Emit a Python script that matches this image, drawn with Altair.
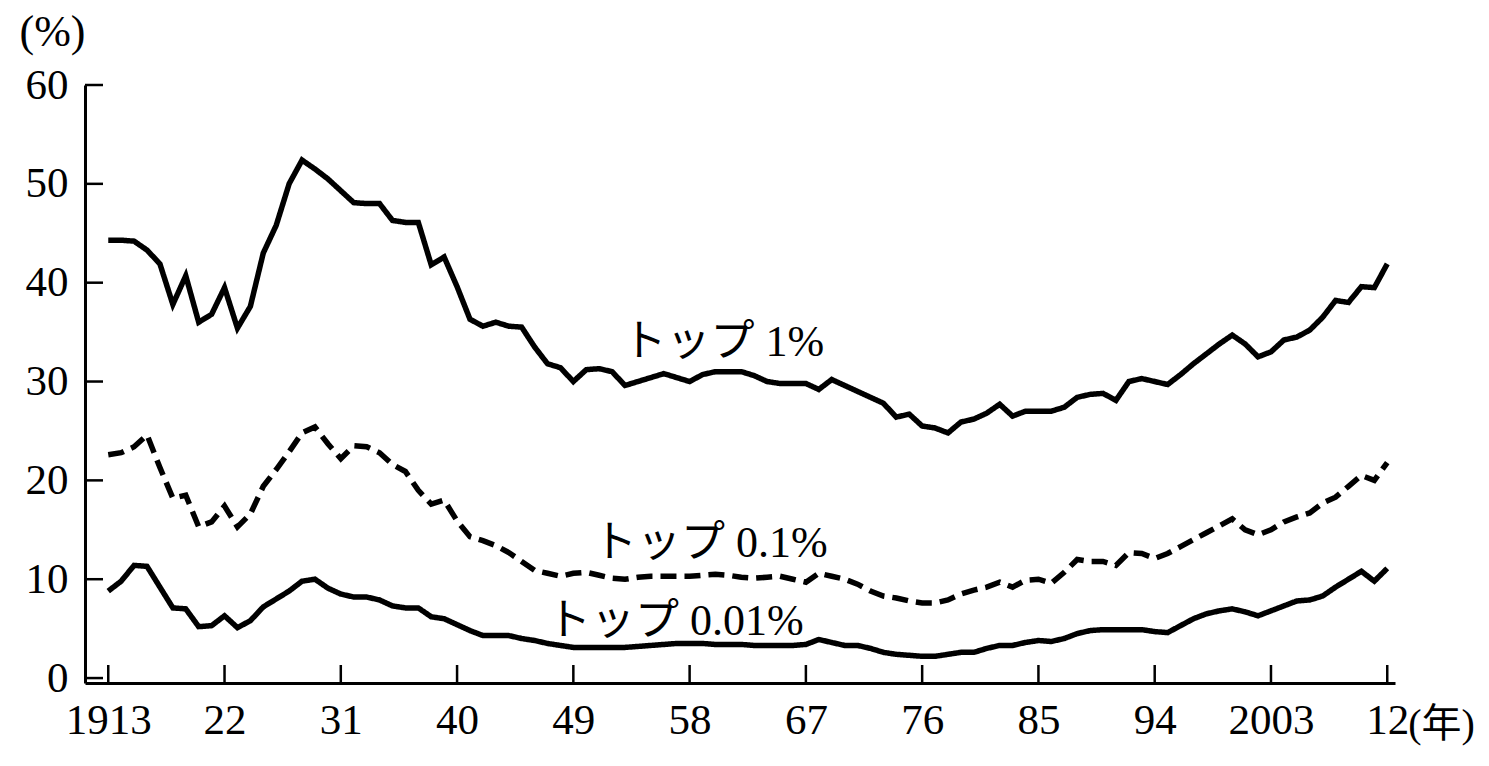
import altair as alt
import pandas as pd

# ---------------- data ----------------
years = list(range(1913, 2013))

top1 = [
    44.3, 44.3, 44.2, 43.3, 41.9, 37.8, 40.7, 36.0, 36.8, 39.5,
    35.4, 37.6, 43.0, 45.8, 50.0, 52.4, 51.5, 50.5, 49.3, 48.1,
    48.0, 48.0, 46.3, 46.1, 46.1, 41.8, 42.6, 39.6, 36.3, 35.6,
    36.0, 35.6, 35.5, 33.5, 31.8, 31.4, 30.0, 31.2, 31.3, 31.0,
    29.6, 30.0, 30.4, 30.8, 30.4, 30.0, 30.7, 31.0, 31.0, 31.0,
    30.6, 30.0, 29.8, 29.8, 29.8, 29.2, 30.2, 29.6, 29.0, 28.4,
    27.8, 26.4, 26.7, 25.5, 25.3, 24.8, 25.9, 26.2, 26.8, 27.7,
    26.5, 27.0, 27.0, 27.0, 27.4, 28.4, 28.7, 28.8, 28.1, 30.0,
    30.3, 30.0, 29.7, 30.7, 31.8, 32.8, 33.8, 34.7, 33.8, 32.5,
    33.0, 34.2, 34.5, 35.2, 36.5, 38.2, 38.0, 39.6, 39.5, 41.9,
]

top01 = [
    22.6, 22.8, 23.4, 24.6, 21.3, 18.2, 18.5, 15.3, 15.8, 17.4,
    15.3, 16.6, 19.4, 21.1, 22.9, 24.8, 25.4, 23.7, 22.2, 23.5,
    23.4, 22.8, 21.6, 20.9, 19.0, 17.6, 18.0, 15.9, 14.3, 13.9,
    13.4, 12.7, 11.8, 10.9, 10.6, 10.3, 10.6, 10.7, 10.4, 10.1,
    10.0, 10.2, 10.3, 10.3, 10.3, 10.3, 10.4, 10.5, 10.4, 10.2,
    10.1, 10.2, 10.3, 10.0, 9.7, 10.6, 10.3, 10.0, 9.5, 8.8,
    8.3, 8.1, 7.8, 7.6, 7.6, 7.9, 8.5, 8.9, 9.2, 9.7,
    9.2, 9.9, 10.0, 9.6, 10.7, 12.0, 11.8, 11.8, 11.4, 12.7,
    12.6, 12.1, 12.6, 13.3, 14.0, 14.7, 15.4, 16.1, 15.0, 14.5,
    15.0, 15.8, 16.3, 16.7, 17.7, 18.3, 19.4, 20.5, 20.0, 21.8,
]

top001 = [
    8.8, 9.8, 11.4, 11.3, 9.2, 7.1, 7.0, 5.2, 5.3, 6.3,
    5.1, 5.8, 7.2, 8.0, 8.8, 9.8, 10.0, 9.1, 8.5, 8.2,
    8.2, 7.9, 7.3, 7.1, 7.1, 6.2, 6.0, 5.4, 4.8, 4.3,
    4.3, 4.3, 4.0, 3.8, 3.5, 3.3, 3.1, 3.1, 3.1, 3.1,
    3.1, 3.2, 3.3, 3.4, 3.5, 3.5, 3.5, 3.4, 3.4, 3.4,
    3.3, 3.3, 3.3, 3.3, 3.4, 3.9, 3.6, 3.3, 3.3, 3.0,
    2.6, 2.4, 2.3, 2.2, 2.2, 2.4, 2.6, 2.6, 3.0, 3.3,
    3.3, 3.6, 3.8, 3.7, 4.0, 4.5, 4.8, 4.9, 4.9, 4.9,
    4.9, 4.7, 4.6, 5.3, 6.0, 6.5, 6.8, 7.0, 6.7, 6.3,
    6.8, 7.3, 7.8, 7.9, 8.3, 9.2, 10.0, 10.8, 9.8, 11.1,
]

series_names = ["トップ 1%", "トップ 0.1%", "トップ 0.01%"]

x_tick_values = [1913, 1922, 1931, 1940, 1949, 1958, 1967, 1976, 1985, 1994, 2003, 2012]
x_tick_labels = ["1913", "22", "31", "40", "49", "58", "67", "76", "85", "94", "2003", "12"]
y_tick_values = [0, 10, 20, 30, 40, 50, 60]

# where the series names are written (year, value)
label_years = [1960.6, 1959.6, 1956.9]
label_values = [33.9, 13.6, 5.7]

# ---------------- tables ----------------
rows = []
for name, vals in zip(series_names, [top1, top01, top001]):
    for yr, v in zip(years, vals):
        rows.append({"year": yr, "value": v, "series": name})
df = pd.DataFrame(rows)

xt_df = pd.DataFrame({"year": x_tick_values})
yt_df = pd.DataFrame({"value": y_tick_values})
lab_df = pd.DataFrame({"year": label_years, "value": label_values, "text": series_names})

W, H = 1310, 598
NUM_FONT = "Liberation Serif"
JP_FONT = "Liberation Serif, Noto Sans CJK JP"

x_scale = alt.Scale(domain=[1911.2, 2012.6], nice=False, zero=False)
y_scale = alt.Scale(domain=[-0.5, 60], nice=False, zero=False)

label_expr = " : ".join(
    [f"datum.value == {v} ? '{t}'" for v, t in zip(x_tick_values, x_tick_labels)] + ["''"]
)

x_axis = alt.Axis(
    values=x_tick_values,
    labelExpr=label_expr,
    ticks=False,
    grid=False,
    domainColor="black",
    domainWidth=3,
    labelFont=NUM_FONT,
    labelFontSize=43,
    labelColor="black",
    labelPadding=16,
    labelFlush=False,
    labelOverlap=False,
    title="(年)",
    titleFont=JP_FONT,
    titleFontSize=40,
    titleFontWeight="normal",
    titleColor="black",
    titleAnchor="start",
    titleAlign="center",
    titleBaseline="middle",
    titleX=1356,
    titleY=41,
)

y_axis = alt.Axis(
    values=y_tick_values,
    ticks=False,
    grid=False,
    domainColor="black",
    domainWidth=3,
    labelFont=NUM_FONT,
    labelFontSize=43,
    labelColor="black",
    labelPadding=17,
    labelOverlap=False,
    title="(%)",
    titleFont=NUM_FONT,
    titleFontSize=44,
    titleFontWeight="normal",
    titleColor="black",
    titleAngle=0,
    titleAlign="center",
    titleBaseline="middle",
    titleX=-33,
    titleY=-53,
)

lines = alt.Chart(df).mark_line(strokeWidth=5.5, color="black", strokeJoin="miter").encode(
    x=alt.X("year:Q", scale=x_scale, axis=x_axis),
    y=alt.Y("value:Q", scale=y_scale, axis=y_axis),
    detail="series:N",
    strokeDash=alt.StrokeDash(
        "series:N",
        scale=alt.Scale(domain=series_names, range=[[1, 0], [16, 8], [1, 0]]),
        legend=None,
    ),
)

x_ticks = alt.Chart(xt_df).mark_rule(color="black", strokeWidth=2.5).encode(
    x=alt.X("year:Q", scale=x_scale),
    y=alt.value(H),
    y2=alt.value(H - 18),
)

y_ticks = alt.Chart(yt_df).mark_rule(color="black", strokeWidth=2.5).encode(
    y=alt.Y("value:Q", scale=y_scale),
    x=alt.value(0),
    x2=alt.value(18),
)

labels = alt.Chart(lab_df).mark_text(
    font=JP_FONT, fontSize=44, color="black", align="center", baseline="middle"
).encode(
    x=alt.X("year:Q", scale=x_scale),
    y=alt.Y("value:Q", scale=y_scale),
    text="text:N",
)

chart = (
    alt.layer(lines, x_ticks, y_ticks, labels)
    .properties(
        width=W,
        height=H,
        autosize=alt.AutoSizeParams(type="none"),
        padding={"left": 77, "top": 77, "right": 86, "bottom": 70},
        background="white",
    )
    .configure_view(stroke=None)
)

chart.save("out.html", embed_options={"renderer": "svg", "actions": False})
